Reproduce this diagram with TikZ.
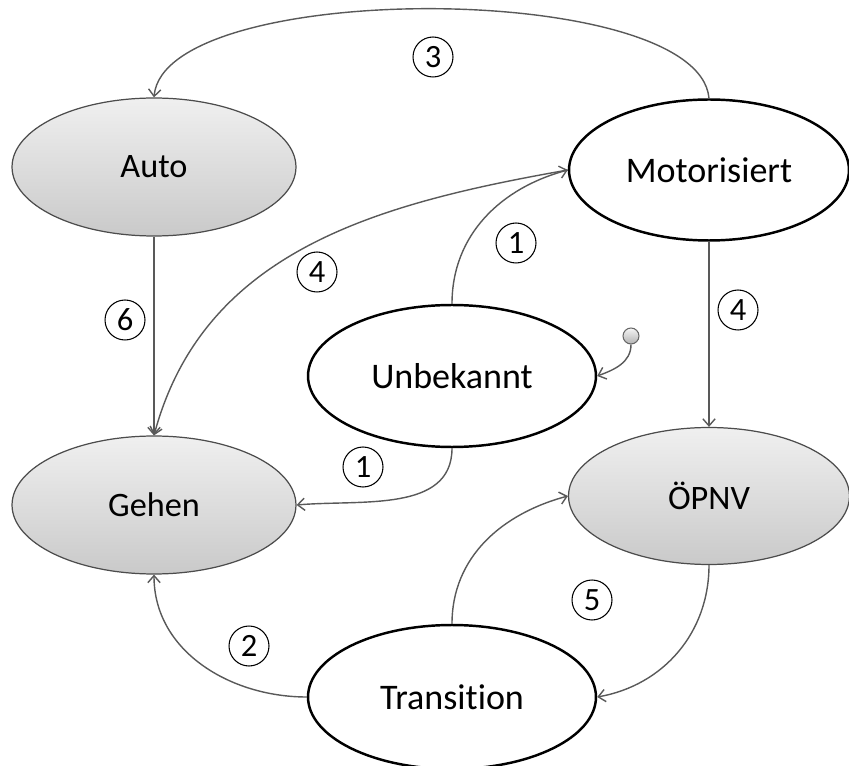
\documentclass[tikz,border=0pt]{standalone}
\usepackage{fontspec}
\setmainfont[Ligatures=NoCommon]{Carlito}
\usetikzlibrary{arrows.meta,shapes.geometric}
\begin{document}
\begin{tikzpicture}[x=0.02cm,y=0.02cm]
	\tikzset{whitestate/.style = {shape=ellipse,draw=black,line width=1.4pt,fill=white,minimum width=5.76cm,minimum height=2.84cm,inner sep=0pt,font=\fontsize{20.5}{24}\selectfont}}
	\tikzset{greystate/.style = {shape=ellipse,draw=black!70,line width=0.7pt,top color=black!6,bottom color=black!21,minimum width=5.68cm,minimum height=2.76cm,inner sep=0pt,font=\fontsize{19.5}{22}\selectfont}}
	\tikzset{num/.style = {shape=circle,draw,line width=0.6pt,minimum size=0.8cm,inner sep=0pt,font=\fontsize{18.5}{20}\selectfont}}
	\tikzset{edge/.style = {->,>={Straight Barb[length=4pt,width=7pt]},color=black!65,line width=0.8pt}}
	\useasboundingbox (0,0) rectangle (849,765);
	\node[greystate] (auto) at (154,598) {Auto};
	\node[whitestate,minimum width=5.6cm,minimum height=2.82cm] (mot) at (709,595) {Motorisiert};
	\node[whitestate] (unb) at (452,389) {Unbekannt};
	\node[greystate] (gehen) at (154,260) {Gehen};
	\node[greystate,minimum width=5.62cm,minimum height=2.74cm] (oepnv) at (709,269) {ÖPNV};
	\node[whitestate,minimum height=2.88cm] (trans) at (452,68) {Transition};
	\node[circle,draw=black!60,line width=0.6pt,top color=black!4,bottom color=black!30,minimum size=0.32cm,inner sep=0pt] (init) at (631,429) {};
	\node[num] (n3) at (433,708) {3};
	\node[num] (n1a) at (516,522) {1};
	\node[num] (n4a) at (317,493) {4};
	\node[num] (n6) at (125,445) {6};
	\node[num] (n4b) at (738,455) {4};
	\node[num] (n1b) at (363,298) {1};
	\node[num] (n2) at (249,119) {2};
	\node[num] (n5) at (592,165) {5};
	\path[edge] (mot.north) edge[out=95,in=85,looseness=0.55] (auto.north);
	\path[edge] (auto.south) edge (gehen.north);
	\path[edge] (mot.south) edge (oepnv.north);
	\path[edge] (unb.north) edge[out=90,in=195] (mot.west);
	\path[edge] (mot.west) edge[out=190,in=75] (gehen.north);
	\path[edge] (unb.south) edge[out=-90,in=5] (gehen.east);
	\path[edge] (trans.west) edge[out=180,in=-90] (gehen.south);
	\path[edge] (trans.north) edge[out=90,in=195] (oepnv.west);
	\path[edge] (oepnv.south) edge[out=-90,in=10] (trans.east);
	\path[edge] (init.south) edge[out=-90,in=20] (unb.east);
\end{tikzpicture}
\end{document}
